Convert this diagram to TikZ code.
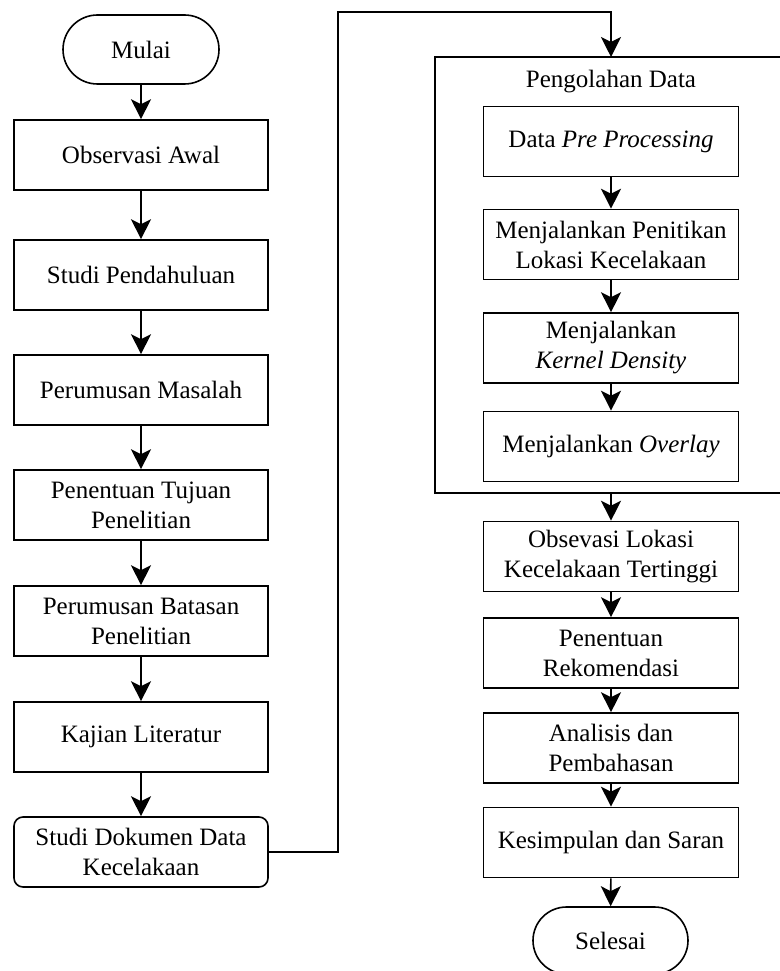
\documentclass[tikz,border=0pt]{standalone}
\usepackage{fontspec}
\setmainfont{Liberation Serif}
\usetikzlibrary{shapes.misc,arrows.meta}
\begin{document}
\begin{tikzpicture}[x=1pt,y=-1pt,
  every node/.style={font=\fontsize{25}{30}\selectfont, align=center, inner sep=0pt},
  lbox/.style={draw, line width=1.6pt, minimum width=254pt, minimum height=70pt},
  rbox/.style={draw, line width=1.6pt, minimum width=255pt, minimum height=70pt},
  term/.style={draw, line width=1.6pt, rounded rectangle, minimum width=156pt, minimum height=69pt},
  conn/.style={line width=1.6pt},
  arr/.style={line width=1.6pt, -{Stealth[length=20pt,width=20pt,inset=5pt]}}
]
\useasboundingbox (0,0) rectangle (779,971);
% left column
\node[term] (mulai) at (141,49.5) {Mulai};
\node[lbox] (obs) at (141,155) {Observasi Awal};
\node[lbox] (sp) at (141,275) {Studi Pendahuluan};
\node[lbox] (pm) at (141,390) {Perumusan Masalah};
\node[lbox] (pt) at (141,505) {Penentuan Tujuan\\Penelitian};
\node[lbox] (pb) at (141,621) {Perumusan Batasan\\Penelitian};
\node[lbox] (kl) at (141,737) {Kajian Literatur};
\node[lbox, rounded corners=9pt] (sd) at (141,852) {Studi Dokumen Data\\Kecelakaan};
% right column
\node[draw, line width=1.6pt, minimum width=347pt, minimum height=436pt] (pdbox) at (608.5,275) {};
\node (pdl) at (611,82) {Pengolahan Data};
\node[rbox] (dpp) at (611,141.5) {Data \textit{Pre Processing}};
\node[rbox] (pen) at (611,244.5) {Menjalankan Penitikan\\Lokasi Kecelakaan};
\node[rbox] (ker) at (611,348) {Menjalankan\\\textit{Kernel Density}};
\node[rbox] (ovl) at (611,446.5) {Menjalankan \textit{Overlay}};
\node[rbox] (obl) at (611,556.5) {Obsevasi Lokasi\\Kecelakaan Tertinggi};
\node[rbox] (rek) at (611,653) {Penentuan\\Rekomendasi};
\node[rbox] (ana) at (611,748) {Analisis dan\\Pembahasan};
\node[rbox] (kes) at (611,842.5) {Kesimpulan dan Saran};
\node[term, minimum width=155pt, minimum height=67pt] (sel) at (610.5,940.5) {Selesai};
% coordinates
\coordinate (c1) at (338,12);
\coordinate (pdin) at (611,57);
\coordinate (pdout) at (611,493);
% connectors
\draw[arr] (mulai) -- (obs);
\draw[arr] (obs) -- (sp);
\draw[arr] (sp) -- (pm);
\draw[arr] (pm) -- (pt);
\draw[arr] (pt) -- (pb);
\draw[arr] (pb) -- (kl);
\draw[arr] (kl) -- (sd);
\draw[arr] (sd.east) -| (c1) -| (pdin);
\draw[arr] (dpp) -- (pen);
\draw[arr] (pen) -- (ker);
\draw[arr] (ker) -- (ovl);
\draw[arr] (pdout) -- (obl);
\draw[arr] (obl) -- (rek);
\draw[arr] (rek) -- (ana);
\draw[arr] (ana) -- (kes);
\draw[arr] (kes) -- (sel);
\end{tikzpicture}
\end{document}
